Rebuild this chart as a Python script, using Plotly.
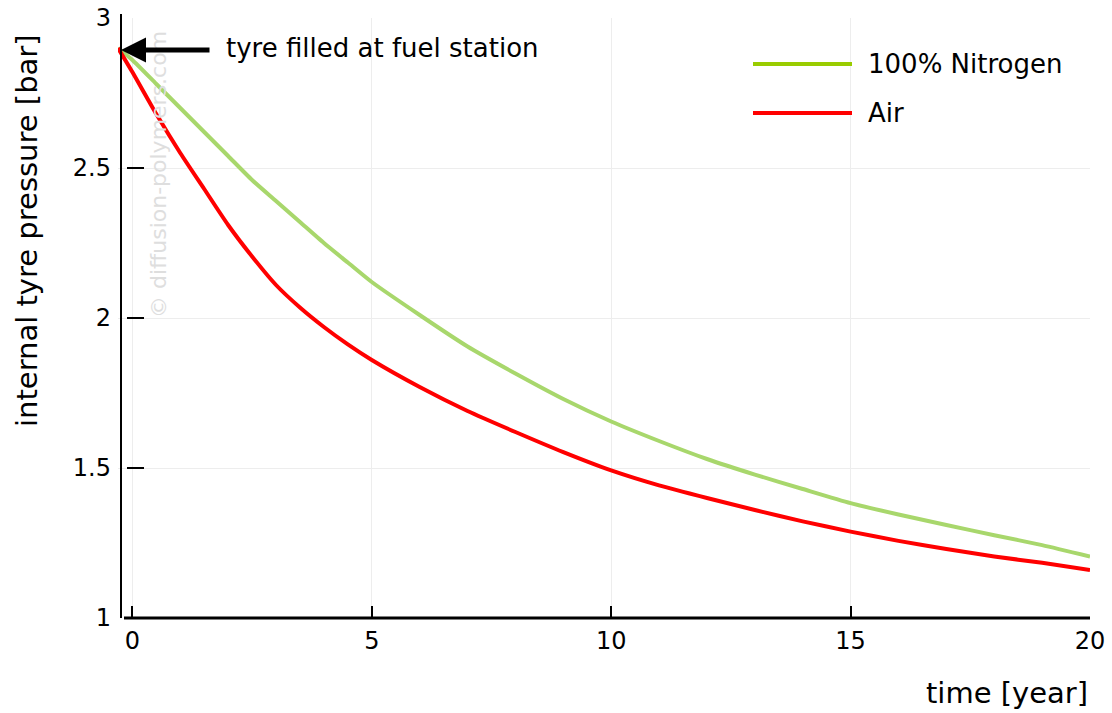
import plotly.graph_objects as go

# time in years
time_years = [-0.3, 0, 0.5, 1, 1.5, 2, 2.5, 3, 3.5, 4, 4.5, 5, 6, 7, 8, 9, 10,
              11, 12, 13, 14, 15, 16, 17, 18, 19, 20]
# internal tyre pressure [bar]
nitrogen = [2.90, 2.86, 2.78, 2.70, 2.62, 2.54, 2.46, 2.39, 2.32, 2.25, 2.185, 2.12,
            2.01, 1.905, 1.815, 1.73, 1.655, 1.59, 1.53, 1.478, 1.43, 1.383,
            1.345, 1.31, 1.276, 1.243, 1.205]
air = [2.90, 2.82, 2.68, 2.55, 2.43, 2.31, 2.205, 2.11, 2.035, 1.97, 1.912, 1.86,
       1.77, 1.69, 1.62, 1.553, 1.492, 1.442, 1.40, 1.36, 1.322, 1.288,
       1.257, 1.23, 1.205, 1.184, 1.16]
series_names = ["100% Nitrogen", "Air"]
line_colors = ["#a8d76c", "#ff0000"]
legend_colors = ["#99cc00", "#ff0000"]
x_ticks = [0, 5, 10, 15, 20]
y_ticks = [1, 1.5, 2, 2.5, 3]

FONT = "Verdana, DejaVu Sans, sans-serif"

fig = go.Figure()
for name, ys, col in zip(series_names, [nitrogen, air], line_colors):
    fig.add_trace(go.Scatter(x=time_years, y=ys, mode="lines", name=name,
                             line=dict(color=col, width=4, shape="spline", smoothing=0.6),
                             showlegend=False))

OFF = 0  # body margin removed via post_script
W, H = 1112, 713
L, T = 118, 18
R = W - 1090
B = H - 618
pw = W - L - R
ph = H - T - B

def px_x(px):
    return (px - OFF - L) / pw

def px_y(py):
    return (H - B - (py - OFF)) / ph

fig.update_layout(
    width=W, height=H,
    margin=dict(l=L, r=R, t=T, b=B, autoexpand=False),
    paper_bgcolor="white", plot_bgcolor="white",
    font=dict(family=FONT, color="black"),
    showlegend=False,
    xaxis=dict(range=[-0.3, 20], tickvals=x_ticks, ticks="inside", ticklen=12,
               tickwidth=2, tickcolor="black", showline=False, zeroline=False,
               showgrid=True, gridcolor="#ededed", gridwidth=1,
               ticklabeloverflow="allow", automargin=False,
               tickfont=dict(size=24, family=FONT), ticklabelstandoff=6),
    yaxis=dict(range=[1, 3], tickvals=y_ticks, ticktext=["1", "1.5", "2", "2.5", "3"],
               ticks="inside", ticklen=17, tickwidth=2, tickcolor="black",
               showline=False, zeroline=False, anchor="free", position=px_x(126),
               showgrid=True, gridcolor="#ededed", gridwidth=1,
               ticklabeloverflow="allow", automargin=False,
               tickfont=dict(size=24, family=FONT), ticklabelstandoff=15),
)

# axis lines
fig.add_shape(type="line", xref="paper", yref="paper", x0=px_x(121), x1=px_x(121),
              y0=0, y1=px_y(14), line=dict(color="black", width=2))
fig.add_shape(type="line", xref="paper", yref="paper", x0=px_x(124), x1=1,
              y0=0, y1=0, line=dict(color="black", width=3))

# legend (manual)
leg_y = [64, 113]
for name, col, yy in zip(series_names, legend_colors, leg_y):
    fig.add_shape(type="line", xref="paper", yref="paper", x0=px_x(753), x1=px_x(852),
                  y0=px_y(yy), y1=px_y(yy), line=dict(color=col, width=4))
    fig.add_annotation(xref="paper", yref="paper", x=px_x(866), y=px_y(yy),
                       text=name, showarrow=False, xanchor="left", yanchor="middle",
                       font=dict(size=26, family=FONT, color="black"))

# axis titles
fig.add_annotation(xref="paper", yref="paper", x=1, y=px_y(693), text="time [year]",
                   showarrow=False, xanchor="right", yanchor="middle",
                   font=dict(size=29, family=FONT, color="black"))
fig.add_annotation(xref="paper", yref="paper", x=px_x(27), y=px_y(231),
                   text="internal tyre pressure [bar]", textangle=-90,
                   showarrow=False, xanchor="center", yanchor="middle",
                   font=dict(size=29, family=FONT, color="black"))

# watermark
fig.add_annotation(xref="paper", yref="paper", x=px_x(158), y=px_y(175),
                   text="© diffusion-polymers.com", textangle=-90, showarrow=False,
                   xanchor="center", yanchor="middle",
                   font=dict(size=22, family=FONT, color="#dedede"))

# arrow annotation
fig.add_annotation(xref="paper", yref="paper", x=px_x(121), y=px_y(50), text="",
                   showarrow=True, ax=90, ay=0, arrowhead=2, arrowsize=1,
                   arrowwidth=5, arrowcolor="black")
fig.add_annotation(xref="paper", yref="paper", x=px_x(224), y=px_y(48),
                   text="tyre filled at fuel station", showarrow=False,
                   xanchor="left", yanchor="middle",
                   font=dict(size=26, family=FONT, color="black"))

fig.write_html("out.html", config={"displayModeBar": False},
               post_script="document.body.style.margin='0';"
                           "document.body.style.overflow='hidden';")
